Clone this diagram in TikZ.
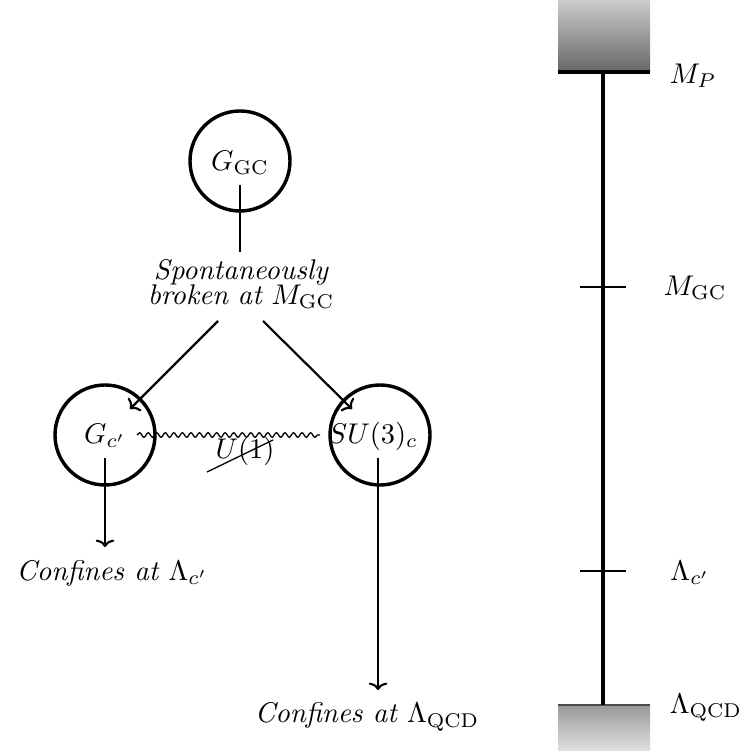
\documentclass[tikz,border=0pt]{standalone}
\usetikzlibrary{decorations.pathmorphing,arrows.meta}
\begin{document}
\begin{tikzpicture}[x=0.351pt,y=-0.351pt,
  grp/.style={circle,draw,line width=1.2pt,minimum size=100*0.351pt,inner sep=0pt},
  lbl/.style={inner sep=0pt},
  arr/.style={-{To[width=6.5pt,length=2.6pt]},line width=0.75pt},
  ln/.style={line width=0.75pt},
  tick/.style={line width=0.45pt}]
\useasboundingbox (0,0) rectangle (745,751);
% scale bar
\shade[top color=black!20,bottom color=black!60] (558,0) rectangle (650,72);
\shade[top color=black!40,bottom color=black!12] (558,705) rectangle (650,751);
\draw[line width=0.4pt,black!70] (558,705) -- (650,705);
\coordinate (top) at (603,72);
\coordinate (bot) at (603,705);
\draw[line width=1.5pt] (558,72) -- (650,72);
\draw[line width=1.15pt] (top) -- (bot);
\draw[tick] (580,287) -- (626,287);
\draw[tick] (580,571) -- (626,571);
\node[lbl] (mp) at (693,76) {$M_P$};
\node[lbl] (mgc) at (695,288) {$M_{\rm GC}$};
\node[lbl] (lc) at (690,573) {$\Lambda_{c'}$};
\node[lbl] (lqcd) at (706,708) {$\Lambda_{\rm QCD}$};
% groups
\node[grp] (ggc) at (240,161) {};
\node[lbl] (ggct) at (240,163) {$G_{\rm GC}$};
\node[grp] (gc) at (105,435) {};
\node[lbl] (gct) at (105,436) {$G_{c'}$};
\node[grp] (su) at (380,435) {};
\node[lbl] (sut) at (373,436) {$SU(3)_c$};
\node[lbl,align=center,font=\itshape,text width=100pt] (sb) at (241,284) {Spontaneously\\[-3pt] broken at $M_{\rm GC}$};
\coordinate (a1) at (240,185);
\coordinate (a2) at (240,252);
\draw[ln] (a1) -- (a2);
\coordinate (l1) at (218,321);
\coordinate (l2) at (130,409);
\coordinate (r1) at (263,321);
\coordinate (r2) at (352,409);
\draw[arr] (l1) -- (l2);
\draw[arr] (r1) -- (r2);
% wavy
\coordinate (w1) at (137,435);
\coordinate (w2) at (320,435);
\draw[decorate,decoration={snake,segment length=3pt,amplitude=0.8pt},line width=0.45pt] (w1) -- (w2);
\node[lbl] (u1) at (245,451) {$U(1)$};
\coordinate (s1) at (207,472);
\coordinate (s2) at (273,440);
\draw[line width=0.45pt] (s1) -- (s2);
% confinement
\coordinate (c1) at (105,458);
\coordinate (c2) at (105,547);
\draw[arr] (c1) -- (c2);
\node[lbl,font=\itshape] (conf1) at (112,573) {Confines at $\Lambda_{c'}$};
\coordinate (d1) at (378,458);
\coordinate (d2) at (378,690);
\draw[arr] (d1) -- (d2);
\node[lbl,font=\itshape] (conf2) at (367,717) {Confines at $\Lambda_{\rm QCD}$};
\end{tikzpicture}
\end{document}
